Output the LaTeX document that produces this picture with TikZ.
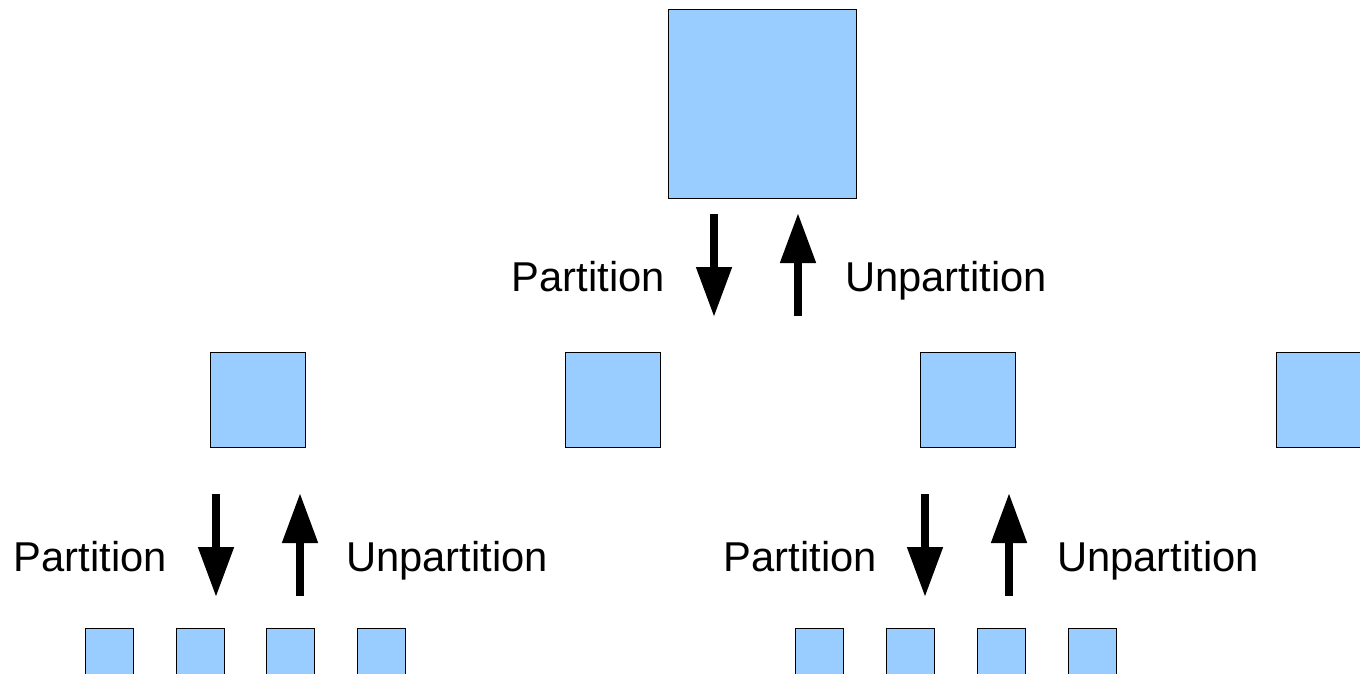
\documentclass[tikz,border=0pt]{standalone}
\usepackage{fontspec}
\setmainfont{Liberation Sans}
\usetikzlibrary{arrows.meta}

\definecolor{boxblue}{HTML}{99CCFF}

\tikzset{
  block/.style={draw=black, line width=1pt, fill=boxblue, inner sep=0pt, minimum size=#1},
  flow/.style={line width=8pt, -{Triangle[length=50pt, width=34pt]}},
  lbl/.style={inner sep=0pt, font=\fontsize{41.7}{50}\selectfont}
}

\begin{document}
\begin{tikzpicture}[x=1pt, y=-1pt]
		% Picture frame
		\clip (0,0) rectangle (1360,674);
		
		% Top block
		\node[block=188pt] (top) at (762,104) {};
		
		% Middle row of blocks
		\foreach \x/\n in {257.5/m1, 613/m2, 968/m3, 1323.5/m4} {
			\node[block=95pt] (\n) at (\x,399.5) {};
		}
		
		% Bottom row of blocks
		\foreach \x/\n in {109/b1, 200/b2, 290.5/b3, 381/b4, 819/b5, 910/b6, 1001/b7, 1092/b8} {
			\node[block=48pt] (\n) at (\x,652) {};
		}
		
		% Arrow end points
		\foreach \x/\y/\n in {714/214/t, 216/494/l, 925/494/r} {
			\coordinate (\n down top) at (\x,\y);
			\coordinate (\n down end) at (\x,\y+103);
			\coordinate (\n up start) at (\x+84,\y+102);
			\coordinate (\n up end) at (\x+84,\y-1);
		}
		
		% Partition / unpartition arrows
		\foreach \n in {t, l, r} {
			\draw[flow] (\n down top) -- (\n down end);
			\draw[flow] (\n up start) -- (\n up end);
		}
		
		% Labels
		\node[lbl, anchor=base east] (tpart) at (665,291) {Partition};
		\node[lbl, anchor=base west] (tunpart) at (845,291) {Unpartition};
		\node[lbl, anchor=base east] (lpart) at (167,571) {Partition};
		\node[lbl, anchor=base west] (lunpart) at (346,571) {Unpartition};
		\node[lbl, anchor=base east] (rpart) at (877,571) {Partition};
		\node[lbl, anchor=base west] (runpart) at (1057,571) {Unpartition};
	\end{tikzpicture}
\end{document}
